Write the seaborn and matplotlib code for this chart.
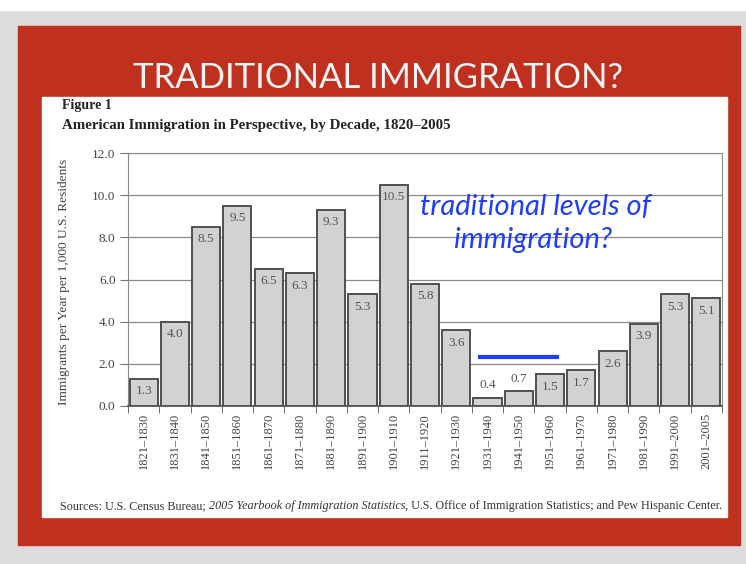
import seaborn as sns
import pandas as pd
import matplotlib.pyplot as plt
from matplotlib.patches import Rectangle

# Data
decades = ["1821–1830", "1831–1840", "1841–1850", "1851–1860", "1861–1870",
           "1871–1880", "1881–1890", "1891–1900", "1901–1910", "1911–1920",
           "1921–1930", "1931–1940", "1941–1950", "1951–1960", "1961–1970",
           "1971–1980", "1981–1990", "1991–2000", "2001–2005"]
rates = [1.3, 4.0, 8.5, 9.5, 6.5, 6.3, 9.3, 5.3, 10.5, 5.8,
         3.6, 0.4, 0.7, 1.5, 1.7, 2.6, 3.9, 5.3, 5.1]
yticks = [0.0, 2.0, 4.0, 6.0, 8.0, 10.0, 12.0]
labels_above = ["1931–1940", "1941–1950"]

df = pd.DataFrame({"decade": decades, "rate": rates})

sns.set_style("white")
serif = ["Liberation Serif", "DejaVu Serif"]

W, H = 746, 564
fig = plt.figure(figsize=(W / 100, H / 100), dpi=100)
fig.patch.set_facecolor("#dcdcdc")

def px(x0, y0, x1, y1):
    # image pixel box -> figure fraction (left, bottom, width, height)
    return (x0 / W, 1 - y1 / H, (x1 - x0) / W, (y1 - y0) / H)

# slide background: white strip, red painted panel, white figure card
l, b, w, h = px(0, 0, W, 10)
fig.patches.append(Rectangle((l, b), w, h, transform=fig.transFigure,
                             color="white", zorder=-3))
l, b, w, h = px(18, 26, 740, 545)
fig.patches.append(Rectangle((l, b), w, h, transform=fig.transFigure,
                             color="#c0301f", zorder=-2))
l, b, w, h = px(42, 97, 727, 517)
fig.patches.append(Rectangle((l, b), w, h, transform=fig.transFigure,
                             color="white", zorder=-1))

fig.text(0.507, 1 - 78 / H, "TRADITIONAL IMMIGRATION?", color="#f4f4f4",
         fontsize=25, family="Lato", ha="center", va="center")

fig.text(62 / W, 1 - 106 / H, "Figure 1", family=serif, weight="bold",
         fontsize=10, va="center", color="#222222")
fig.text(62 / W, 1 - 126 / H,
         "American Immigration in Perspective, by Decade, 1820–2005",
         family=serif, weight="bold", fontsize=10.7, va="center", color="#222222")

ax = fig.add_axes(px(128, 153, 722, 406))
ax.set_facecolor("white")
sns.barplot(data=df, x="decade", y="rate", color="#d2d2d2", saturation=1,
            width=0.9, edgecolor="#505050", linewidth=1.4, ax=ax, zorder=3)

ax.set_ylim(0, 12)
ax.set_xlim(-0.5, len(decades) - 0.5)
ax.set_yticks(yticks)
ax.set_yticklabels([f"{v:.1f}" for v in yticks], family=serif, fontsize=9.5,
                   color="#444444")
ax.grid(axis="y", color="#8a8a8a", linewidth=0.9, zorder=0)
ax.set_axisbelow(True)

ax.set_xticks(range(len(decades)))
ax.set_xticklabels(decades, rotation=90, family=serif, fontsize=9,
                   color="#444444")
ax.set_xticks([i + 0.5 for i in range(-1, len(decades))], minor=True)
ax.tick_params(axis="x", which="major", length=0, pad=5)
ax.tick_params(axis="x", which="minor", length=5, color="#555555",
               direction="out", bottom=True)
ax.tick_params(axis="y", length=6, color="#777777", direction="out", left=True,
               pad=3)
ax.set_xlabel("")
ax.set_ylabel("")
for side in ["left", "right", "top", "bottom"]:
    ax.spines[side].set_visible(True)
    ax.spines[side].set_color("#8a8a8a")
ax.spines["bottom"].set_color("#555555")
ax.spines["bottom"].set_linewidth(1.3)

for i, (d, v) in enumerate(zip(decades, rates)):
    off = 9 if d in labels_above else -9
    ax.annotate(f"{v:.1f}", xy=(i, v), xytext=(0, off),
                textcoords="offset points", ha="center", va="center",
                family=serif, fontsize=9.5, color="#555555", zorder=5)

fig.text(64 / W, 1 - 282 / H, "Immigrants per Year per 1,000 U.S. Residents",
         rotation=90, family=serif, fontsize=9.6, color="#444444",
         ha="center", va="center")

# blue overlay added on the slide
ax.plot([10.7, 13.3], [2.33, 2.33], color="#1f3cff", linewidth=3, zorder=6,
        solid_capstyle="butt")
fig.text(535 / W, 1 - 207 / H, "traditional levels of", color="#1f3cff",
         family="Lato", style="italic", fontsize=21, ha="center", va="center")
fig.text(533 / W, 1 - 240 / H, "immigration?", color="#1f3cff",
         family="Lato", style="italic", fontsize=21, ha="center", va="center")

# source line with an italic title in the middle
t1 = fig.text(60 / W, 1 - 509 / H, "Sources: U.S. Census Bureau; ",
              family=serif, fontsize=8.7, color="#333333", va="baseline")
t2 = fig.text(0, 0, "2005 Yearbook of Immigration Statistics", family=serif,
              style="italic", fontsize=8.7, color="#333333", va="baseline")
t3 = fig.text(0, 0, ", U.S. Office of Immigration Statistics; and Pew Hispanic Center.",
              family=serif, fontsize=8.7, color="#333333", va="baseline")
fig.canvas.draw()
r = fig.canvas.get_renderer()
for prev, cur in [(t1, t2), (t2, t3)]:
    bb = prev.get_window_extent(r)
    cur.set_position((bb.x1 / fig.bbox.width, prev.get_position()[1]))

fig.savefig("out.png", dpi=100)
